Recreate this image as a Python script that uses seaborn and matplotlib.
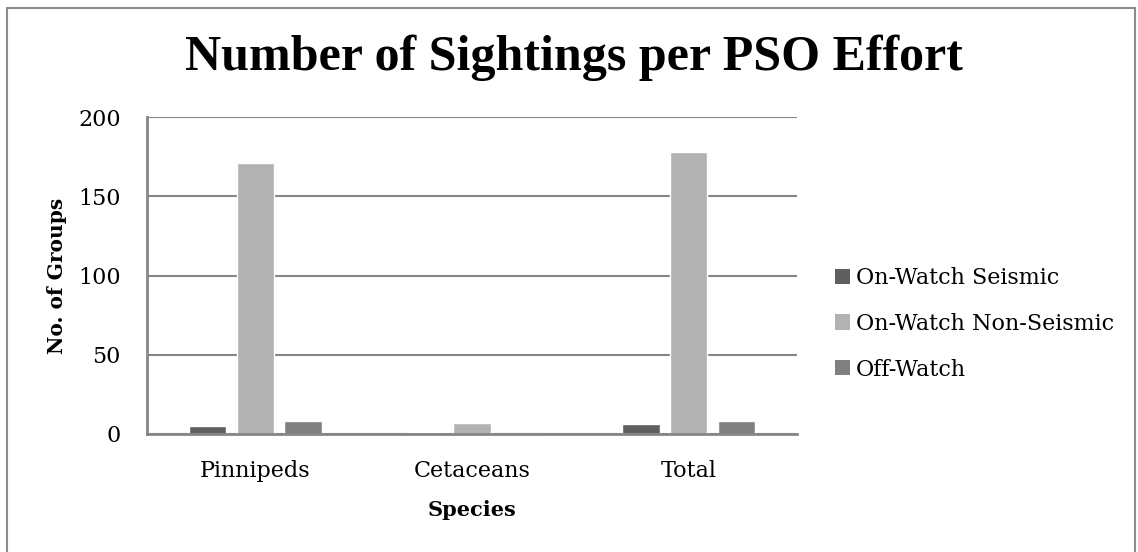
import matplotlib
matplotlib.use("Agg")
import matplotlib.pyplot as plt
from matplotlib.lines import Line2D
from matplotlib.patches import Patch
import seaborn as sns
import pandas as pd

# Sightings (number of groups) by species and PSO effort
species = ["Pinnipeds", "Cetaceans", "Total"]
efforts = ["On-Watch Seismic", "On-Watch Non-Seismic", "Off-Watch"]
on_watch_seismic = [5, 1, 6]
on_watch_non_seismic = [171, 7, 178]
off_watch = [8, 0, 8]
y_ticks = [0, 50, 100, 150, 200]

colors = ["#5f5f5f", "#b2b2b2", "#808080"]
grid_color = "#868686"

df = pd.DataFrame({
    "Species": species * 3,
    "Effort": [efforts[0]] * 3 + [efforts[1]] * 3 + [efforts[2]] * 3,
    "Groups": on_watch_seismic + on_watch_non_seismic + off_watch,
})

sns.set_theme(style="white")
plt.rcParams["font.family"] = ["DejaVu Serif"]
plt.rcParams["text.color"] = "black"
plt.rcParams["axes.labelcolor"] = "black"

W, H = 1138, 552
fig = plt.figure(figsize=(W / 100, H / 100), dpi=100)
ax = fig.add_axes([147 / W, 1 - 434 / H, (797 - 147) / W, (434 - 117) / H])

sns.barplot(data=df, x="Species", y="Groups", hue="Effort", order=species,
            hue_order=efforts, palette=colors, width=0.66, gap=0.21,
            saturation=1, errorbar=None, ax=ax, legend=False)

ax.set_ylim(0, 200)
ax.set_xlim(-0.5, 2.5)
ax.set_yticks(y_ticks)
ax.yaxis.grid(True, color=grid_color, linewidth=1.5)
ax.set_axisbelow(True)
for s in ["top", "right"]:
    ax.spines[s].set_visible(False)
for s in ["left", "bottom"]:
    ax.spines[s].set_color(grid_color)
    ax.spines[s].set_linewidth(2)
ax.tick_params(axis="both", length=0, labelsize=16, colors="black")
ax.tick_params(axis="y", pad=19)
ax.tick_params(axis="x", pad=19)
ax.set_xlabel("Species", fontsize=15, fontweight="bold", labelpad=13)
ax.set_ylabel("No. of Groups", fontsize=14.5, fontweight="bold", labelpad=8)

handles = [Patch(facecolor=c, edgecolor="none") for c in colors]
fig.legend(handles, efforts, loc="upper left", bbox_to_anchor=(835 / W, 1 - 267 / H),
           frameon=False, fontsize=16, handlelength=0.68, handleheight=0.68,
           handletextpad=0.27, labelspacing=1.07, borderaxespad=0, borderpad=0)

fig.text(574 / W, 1 - 58 / H, "Number of Sightings per PSO Effort",
         ha="center", va="center", fontsize=36, fontweight="bold",
         family="Liberation Serif")

# Outer chart border
for xs, ys in [([7, 7], [8, H]), ([7, 1135], [8, 8]), ([1135, 1135], [8, H])]:
    fig.add_artist(Line2D([x / W for x in xs], [1 - y / H for y in ys],
                          color="#8c8c8c", linewidth=1.5))

fig.savefig("out.png", dpi=100, facecolor="white")
